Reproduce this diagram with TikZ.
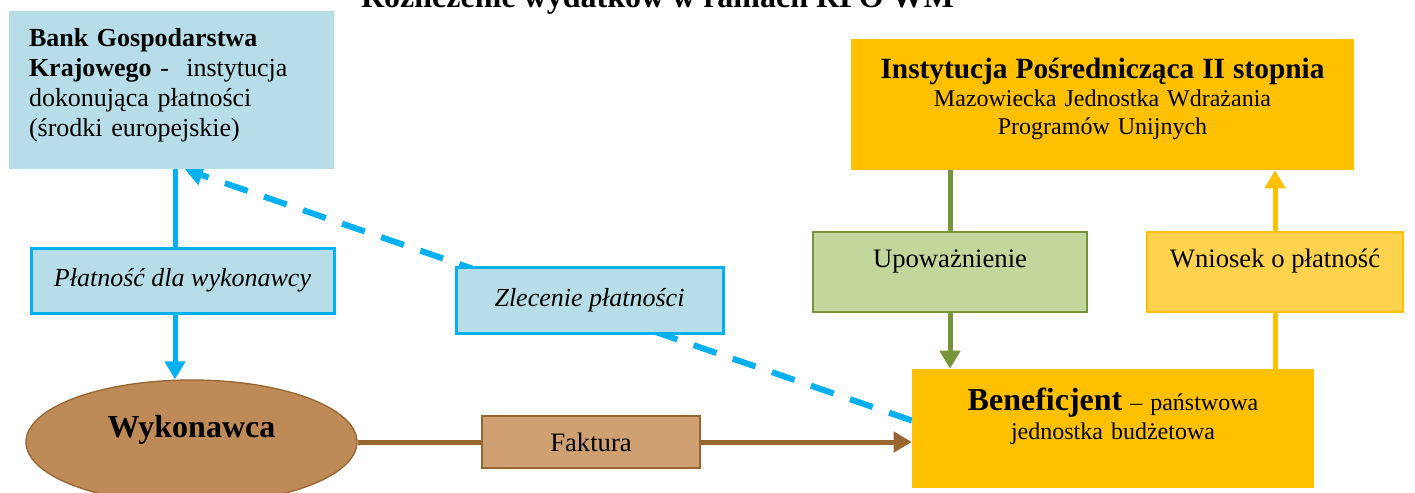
\documentclass[tikz,border=0pt]{standalone}
\usepackage{fontspec}
\setmainfont{Liberation Serif}
\usetikzlibrary{arrows.meta,shapes.geometric,backgrounds}
\definecolor{paleblue}{HTML}{B7DDE8}
\definecolor{skyline}{HTML}{00B0F0}
\definecolor{gold}{HTML}{FFC000}
\definecolor{palegold}{HTML}{FFD34D}
\definecolor{palegreen}{HTML}{C3D69B}
\definecolor{oliveline}{HTML}{77933C}
\definecolor{clay}{HTML}{BE8A58}
\definecolor{claydark}{HTML}{98642F}
\definecolor{fakturafill}{HTML}{CFA071}
\begin{document}
\begin{tikzpicture}[x=0.75pt,y=-0.75pt,
  box/.style={rectangle,inner sep=0pt,align=center},
  flow/.style={line width=3.75pt,-{Triangle[length=13.5pt,width=15pt]}}]
  \useasboundingbox (0,0) rectangle (1415,493);
  \node[anchor=base,font=\fontsize{24}{28}\selectfont\bfseries] (title) at (657.5,7) {Rozliczenie wydatków w ramach RPO WM};
  \node[box,fill=paleblue,minimum height=118.5pt,text width=213.75pt,inner xsep=15pt,align=left,
    text height=14pt,text depth=80pt,font=\fontsize{19.5}{22.5}\selectfont] (bank) at (171.5,90)
    {\textbf{Bank Gospodarstwa}\\\textbf{Krajowego} -~ instytucja\\dokonująca płatności\\(środki europejskie)};
  \node[box,fill=gold,minimum height=98.25pt,text width=377.25pt,text height=15pt,text depth=54.75pt,
    font=\fontsize{18}{21}\selectfont] (ip) at (1102.5,104.5)
    {{\fontsize{22}{21}\selectfont\bfseries Instytucja Pośrednicząca II stopnia}\\Mazowiecka Jednostka Wdrażania\\Programów Unijnych};
  \node[box,fill=paleblue,draw=skyline,line width=2.25pt,minimum width=227.25pt,minimum height=48.75pt,
    font=\fontsize{19.5}{24}\selectfont\itshape] (plat) at (182.5,280.5) {Płatność dla wykonawcy};
  \node[box,fill=paleblue,draw=skyline,line width=2.25pt,minimum width=200.25pt,minimum height=49.5pt,
    font=\fontsize{19.5}{24}\selectfont\itshape] (zlec) at (589.5,300) {Zlecenie płatności};
  \node[box,fill=palegreen,draw=oliveline,line width=1.2pt,minimum width=205.5pt,minimum height=60pt,
    text height=15pt,text depth=22.5pt,font=\fontsize{20}{24}\selectfont] (upow) at (950,272) {Upoważnienie};
  \node[box,fill=palegold,draw=gold,line width=1.2pt,minimum width=192pt,minimum height=60pt,
    text height=15pt,text depth=22.5pt,font=\fontsize{20}{24}\selectfont] (wniosek) at (1275,272) {Wniosek o płatność};
  \node[box,fill=gold,minimum height=89.25pt,text width=301.5pt,text height=16.5pt,text depth=44.25pt,
    font=\fontsize{18}{21.75}\selectfont] (benef) at (1113,428.5)
    {{\fontsize{24}{21.75}\selectfont\bfseries Beneficjent} – państwowa\\jednostka budżetowa};
  \node[ellipse,fill=clay,draw=claydark,line width=1pt,minimum width=248.25pt,minimum height=93pt,inner sep=0pt,
    text height=16pt,text depth=23.5pt,font=\fontsize{24}{28}\selectfont\bfseries] (wyk) at (191.5,442) {Wykonawca};
  \node[box,fill=fakturafill,draw=claydark,line width=1pt,minimum width=163.5pt,minimum height=39pt,
    font=\fontsize{20}{24}\selectfont] (faktura) at (591,442) {Faktura};
  \begin{scope}[on background layer]
    \path (bank.south) ++(3.5,0) coordinate (payTop);
    \draw[flow,skyline] (payTop) -- (payTop |- wyk.north);
    \draw[flow,skyline,line width=4.5pt,dash pattern=on 18pt off 13pt] ([yshift=6pt]benef.west) -- ([xshift=10pt]bank.south);
    \draw[flow,oliveline] (upow.center |- ip.south) -- (upow.center |- benef.north);
    \draw[flow,gold] (wniosek.center |- benef.north) -- (wniosek.center |- ip.south);
    \draw[flow,claydark] (wyk.east) -- (faktura.east -| benef.west);
  \end{scope}
\end{tikzpicture}
\end{document}
